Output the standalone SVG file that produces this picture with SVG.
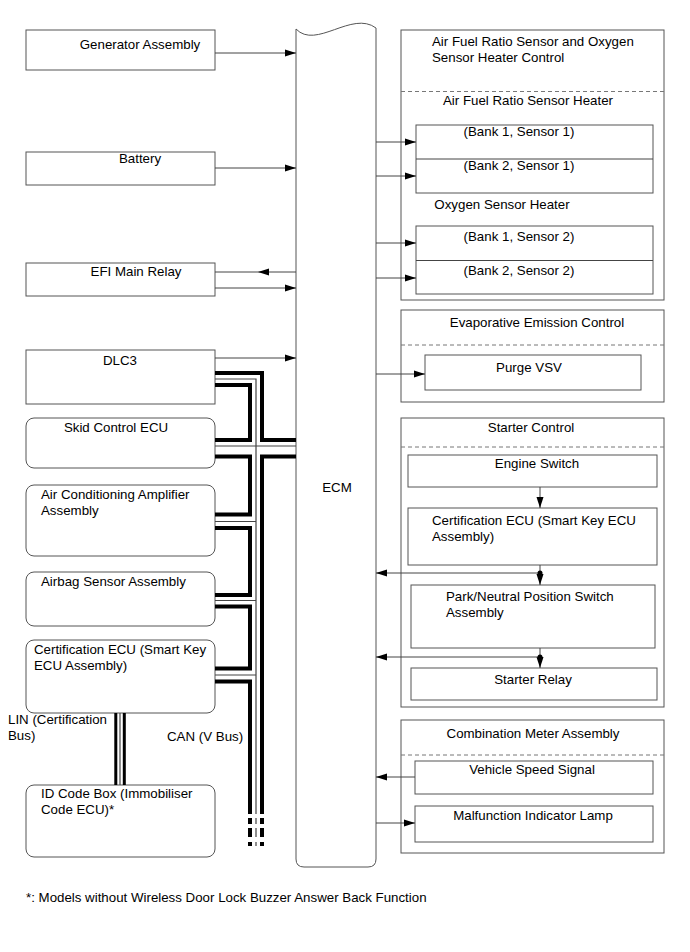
<svg xmlns="http://www.w3.org/2000/svg" width="690" height="952" viewBox="0 0 690 952">
<style>
text{font-family:"Liberation Sans",Arial,sans-serif;font-size:13.3px;fill:#000}
.c{text-anchor:middle}
.bx{fill:#fff;stroke:#555;stroke-width:1}
.dash{stroke:#777;stroke-width:1;stroke-dasharray:4,3;fill:none}
.ln{stroke:#444;stroke-width:1;fill:none}
.tk{stroke:#000;stroke-width:4;fill:none;stroke-linejoin:miter;stroke-linecap:butt}
.tn{stroke:#444;stroke-width:1.2;fill:none}
</style>
<defs>
<marker id="ar" markerUnits="userSpaceOnUse" markerWidth="12" markerHeight="8" refX="11" refY="4" orient="auto">
<path d="M0,0.5 L11,4 L0,7.5 Z" fill="#000"/>
</marker>
</defs>
<rect width="690" height="952" fill="#fff"/>

<g id="generator"><rect class="bx" x="26" y="30" width="189" height="40"/><text class="c" x="140" y="49">Generator Assembly</text></g>
<g id="battery"><rect class="bx" x="26" y="152" width="189" height="33"/><text class="c" x="140" y="163">Battery</text></g>
<g id="efi"><rect class="bx" x="26" y="263" width="189" height="33"/><text class="c" x="136" y="276">EFI Main Relay</text></g>
<g id="dlc3"><rect class="bx" x="26" y="350" width="189" height="54"/><text class="c" x="120" y="365">DLC3</text></g>
<g id="skid"><rect class="bx" x="26" y="418" width="189" height="50" rx="8"/><text class="c" x="116" y="432">Skid Control ECU</text></g>
<g id="ac"><rect class="bx" x="26" y="485" width="189" height="71" rx="8"/><text x="41" y="499">Air Conditioning Amplifier</text><text x="41" y="515">Assembly</text></g>
<g id="airbag"><rect class="bx" x="26" y="572" width="189" height="54" rx="8"/><text x="41" y="586">Airbag Sensor Assembly</text></g>
<g id="cert"><rect class="bx" x="26" y="640" width="189" height="73" rx="8"/><text x="34" y="654">Certification ECU (Smart Key</text><text x="34" y="670">ECU Assembly)</text></g>
<g id="idbox"><rect class="bx" x="26" y="785" width="189" height="72" rx="8"/><text x="41" y="798">ID Code Box (Immobiliser</text><text x="41" y="814">Code ECU)*</text></g>

<g id="ecm"><path class="bx" d="M296,29 C316,50 352,10 376,28 V859 Q376,867 368,867 H304 Q296,867 296,859 Z"/><text class="c" x="337" y="492">ECM</text></g>

<g id="afr-panel">
<rect class="bx" x="401" y="30" width="263" height="270"/>
<text x="432" y="46">Air Fuel Ratio Sensor and Oxygen</text>
<text x="432" y="62">Sensor Heater Control</text>
<line class="dash" x1="401" y1="91.5" x2="664" y2="91.5"/>
<text class="c" x="528" y="105">Air Fuel Ratio Sensor Heater</text>
<rect class="bx" x="416" y="125" width="237" height="68"/>
<line class="ln" x1="416" y1="159" x2="653" y2="159"/>
<text class="c" x="519" y="136">(Bank 1, Sensor 1)</text>
<text class="c" x="519" y="170">(Bank 2, Sensor 1)</text>
<text class="c" x="502" y="209">Oxygen Sensor Heater</text>
<rect class="bx" x="416" y="226" width="237" height="68"/>
<line class="ln" x1="416" y1="260.5" x2="653" y2="260.5"/>
<text class="c" x="519" y="241">(Bank 1, Sensor 2)</text>
<text class="c" x="519" y="275">(Bank 2, Sensor 2)</text>
</g>

<g id="evap-panel">
<rect class="bx" x="401" y="310" width="263" height="92"/>
<text class="c" x="537" y="327">Evaporative Emission Control</text>
<line class="dash" x1="401" y1="345" x2="664" y2="345"/>
<rect class="bx" x="425" y="355" width="216" height="35"/>
<text class="c" x="529" y="372">Purge VSV</text>
</g>

<g id="starter-panel">
<rect class="bx" x="401" y="418" width="263" height="289"/>
<text class="c" x="531" y="432">Starter Control</text>
<line class="dash" x1="401" y1="447" x2="664" y2="447"/>
<rect class="bx" x="408" y="455" width="249" height="32"/>
<text class="c" x="537" y="468">Engine Switch</text>
<rect class="bx" x="408" y="508" width="249" height="57"/>
<text x="432" y="525">Certification ECU (Smart Key ECU</text>
<text x="432" y="541">Assembly)</text>
<rect class="bx" x="411" y="585" width="244" height="63"/>
<text x="446" y="601">Park/Neutral Position Switch</text>
<text x="446" y="617">Assembly</text>
<rect class="bx" x="411" y="668" width="246" height="32"/>
<text class="c" x="533" y="684">Starter Relay</text>
</g>

<g id="meter-panel">
<rect class="bx" x="401" y="720" width="263" height="133"/>
<text class="c" x="533" y="738">Combination Meter Assembly</text>
<line class="dash" x1="401" y1="755" x2="664" y2="755"/>
<rect class="bx" x="415" y="761" width="238" height="33"/>
<text class="c" x="532" y="774">Vehicle Speed Signal</text>
<rect class="bx" x="415" y="806" width="238" height="36"/>
<text class="c" x="533" y="820">Malfunction Indicator Lamp</text>
</g>

<g id="labels">
<text x="8" y="724">LIN (Certification</text>
<text x="8" y="740">Bus)</text>
<text x="167" y="741">CAN (V Bus)</text>
<text x="26" y="902">*: Models without Wireless Door Lock Buzzer Answer Back Function</text>
</g>

<g id="connectors">
<line class="ln" x1="215" y1="53" x2="296" y2="53" marker-end="url(#ar)"/>
<line class="ln" x1="215" y1="168" x2="296" y2="168" marker-end="url(#ar)"/>
<line class="ln" x1="215" y1="272" x2="258" y2="272"/>
<line class="ln" x1="296" y1="272" x2="258" y2="272" marker-end="url(#ar)"/>
<line class="ln" x1="215" y1="288" x2="296" y2="288" marker-end="url(#ar)"/>
<line class="ln" x1="215" y1="358" x2="296" y2="358" marker-end="url(#ar)"/>

<line class="ln" x1="376" y1="142" x2="416" y2="142" marker-end="url(#ar)"/>
<line class="ln" x1="376" y1="176" x2="416" y2="176" marker-end="url(#ar)"/>
<line class="ln" x1="376" y1="243" x2="416" y2="243" marker-end="url(#ar)"/>
<line class="ln" x1="376" y1="278" x2="416" y2="278" marker-end="url(#ar)"/>
<line class="ln" x1="376" y1="374" x2="425" y2="374" marker-end="url(#ar)"/>
<line class="ln" x1="540" y1="487" x2="540" y2="508" marker-end="url(#ar)"/>
<line class="ln" x1="540" y1="565" x2="540" y2="585" marker-end="url(#ar)"/>
<line class="ln" x1="540" y1="573" x2="376" y2="573" marker-end="url(#ar)"/>
<circle cx="540" cy="573" r="2.5" fill="#000"/>
<line class="ln" x1="540" y1="648" x2="540" y2="668" marker-end="url(#ar)"/>
<line class="ln" x1="540" y1="657" x2="376" y2="657" marker-end="url(#ar)"/>
<circle cx="540" cy="657" r="2.5" fill="#000"/>
<line class="ln" x1="415" y1="777" x2="376" y2="777" marker-end="url(#ar)"/>
<line class="ln" x1="376" y1="823" x2="415" y2="823" marker-end="url(#ar)"/>

<path class="tn" d="M215,379 H256 V814"/>
<path class="tn" d="M215,446 H296"/>
<path class="tn" d="M215,521.5 H256 M215,600.5 H256 M215,675 H256"/>
<path class="tk" d="M215,373 H262 V440 H296"/>
<path class="tk" d="M215,385 H250 V440 H215"/>
<path class="tk" d="M215,456.5 H250 V514.5 H215"/>
<path class="tk" d="M296,456.5 H262 V814"/>
<path class="tk" d="M215,528 H250 V595 H215"/>
<path class="tk" d="M215,606.5 H250 V668.5 H215"/>
<path class="tk" d="M215,681.5 H250 V814"/>
<path class="tk" d="M250,818 V824 M250,828 V837 M250,842 V846 M262,818 V824 M262,828 V837 M262,842 V846"/>
<path class="tn" d="M256,818 V824 M256,828 V837 M256,842 V846"/>

<path class="tk" style="stroke-width:3" d="M115.8,713 V785 M124.3,713 V785"/>
<path class="tn" d="M120,713 V785"/>
</g>
</svg>
